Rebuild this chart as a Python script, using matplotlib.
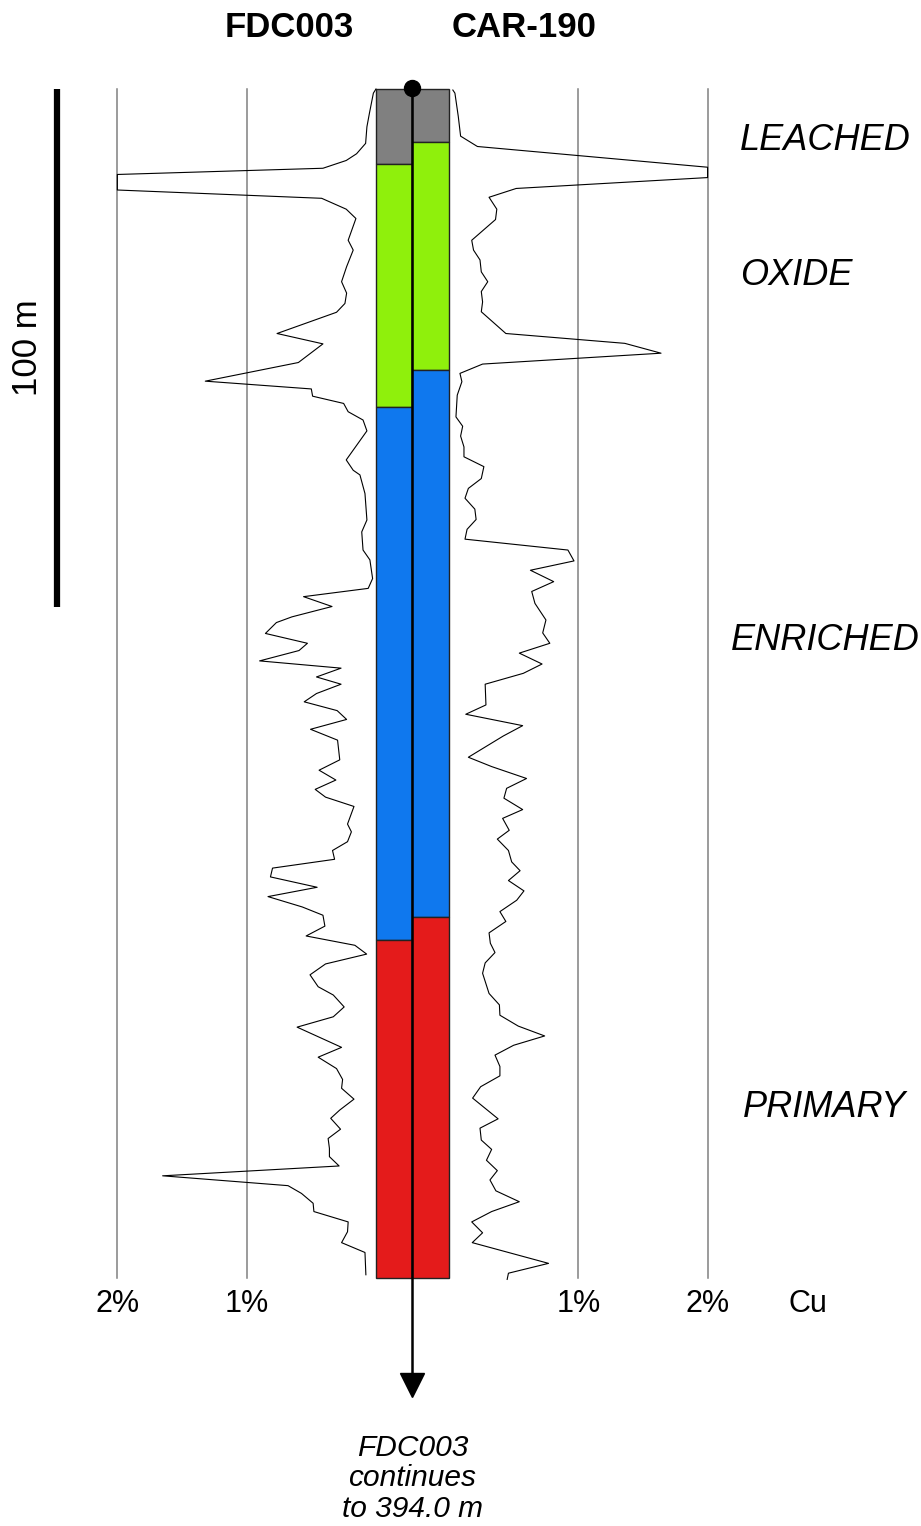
import matplotlib
matplotlib.use("Agg")
import matplotlib.pyplot as plt
import numpy as np

plt.rcParams['font.family'] = ['Liberation Sans', 'DejaVu Sans']

# ---------------- data ----------------
holes = ["FDC003", "CAR-190"]
zones = ["LEACHED", "OXIDE", "ENRICHED", "PRIMARY"]
zone_colors = ["#808080", "#8FF00C", "#0F78EE", "#E41B1B"]

# zone boundaries (depth, m)
fdc_bounds = [0.0, 14.5, 61.4, 164.3, 229.5]
car_bounds = [0.0, 10.3, 54.2, 159.9, 229.5]

# Cu grade profile FDC003 (depth m, Cu %)
fdc_depth = [0.0, 0.8, 4.6, 7.3, 10.5, 12.5, 13.8, 15.3, 16.5, 19.5, 21.1, 23.2, 25.0,
             29.2, 31.1, 34.3, 37.2, 39.4, 41.4, 43.1, 47.2, 49.2, 52.8, 56.4, 57.9,
             59.3, 60.7, 62.3, 63.9, 66.0, 71.6, 73.6, 74.5, 78.1, 83.2, 85.5, 89.0,
             90.9, 94.5, 96.4, 98.0, 99.9, 101.9, 103.0, 105.1, 107.0, 108.4, 110.4,
             111.8, 113.5, 114.9, 116.7, 118.3, 120.0, 121.7, 123.6, 125.7, 129.5,
             131.5, 133.4, 135.2, 136.7, 138.5, 141.9, 143.4, 145.3, 147.0, 148.7,
             150.4, 152.1, 154.1, 155.9, 157.9, 159.5, 161.6, 163.5, 165.3, 167.0,
             168.9, 171.0, 173.3, 174.9, 177.2, 179.1, 181.1, 185.0, 186.9, 189.1,
             191.2, 192.9, 195.0, 197.1, 198.7, 200.8, 202.6, 204.5, 206.1, 207.9,
             209.8, 211.7, 213.2, 215.1, 216.7, 218.7, 220.6, 222.7, 224.6, 228.9]
fdc_cu = [0.00, 0.02, 0.05, 0.07, 0.08, 0.15, 0.23, 0.41, 2.00, 2.00, 0.42, 0.23, 0.155,
          0.215, 0.176, 0.227, 0.266, 0.227, 0.24, 0.305, 0.765, 0.41, 0.60, 1.32, 0.50,
          0.49, 0.25, 0.215, 0.10, 0.07, 0.23, 0.176, 0.124, 0.085, 0.07, 0.11, 0.10,
          0.047, 0.026, 0.06, 0.56, 0.34, 0.65, 0.77, 0.855, 0.53, 0.595, 0.90,
          0.27, 0.46, 0.27, 0.46, 0.555, 0.30, 0.227, 0.506, 0.297, 0.28,
          0.44, 0.31, 0.47, 0.39, 0.17, 0.22, 0.19, 0.22, 0.336, 0.32,
          0.80, 0.816, 0.455, 0.835, 0.57, 0.41, 0.395, 0.54, 0.163, 0.072,
          0.39, 0.51, 0.447, 0.33, 0.246, 0.33, 0.61, 0.266, 0.447, 0.305,
          0.258, 0.266, 0.17, 0.28, 0.35, 0.274, 0.37, 0.36, 0.36, 0.285,
          1.65, 0.68, 0.576, 0.486, 0.48, 0.215, 0.22, 0.266, 0.085, 0.078]

# Cu grade profile CAR-190 (depth m, Cu %)
car_depth = [0.2, 0.8, 5.3, 9.1, 11.1, 15.1, 17.1, 19.2, 20.9, 23.2, 25.2, 29.2, 31.1,
             33.0, 35.3, 37.2, 39.1, 41.1, 43.0, 47.2, 49.1, 51.0, 53.1, 54.9, 56.5,
             59.1, 63.3, 65.1, 67.0, 69.1, 71.0, 72.9, 75.2, 77.1, 79.0, 81.1, 83.1,
             85.0, 86.9, 89.0, 91.1, 92.9, 95.1, 97.0, 99.3, 102.5, 105.0, 107.0,
             108.9, 111.0, 112.8, 114.9, 118.9, 120.7, 122.9, 124.9, 129.0, 130.8,
             133.1, 135.0, 136.9, 139.1, 140.8, 143.1, 144.8, 147.0, 149.2, 150.9,
             152.8, 154.8, 156.6, 158.8, 160.7, 162.9, 164.9, 166.7, 168.7, 170.7,
             174.6, 176.8, 178.8, 180.9, 182.8, 184.6, 186.5, 188.7, 190.5, 192.6,
             194.8, 198.8, 200.6, 202.9, 204.7, 206.8, 208.8, 210.6, 212.7, 214.8,
             216.7, 218.7, 220.8, 222.7, 226.7, 228.6, 229.8]
car_cu = [0.03, 0.046, 0.072, 0.09, 0.22, 2.00, 2.00, 0.52, 0.31, 0.37, 0.36, 0.176, 0.19,
          0.24, 0.25, 0.30, 0.25, 0.26, 0.25, 0.44, 1.36, 1.64, 0.26, 0.085, 0.10,
          0.064, 0.054, 0.106, 0.09, 0.116, 0.116, 0.27, 0.25, 0.15, 0.124, 0.20, 0.21,
          0.14, 0.124, 0.92, 0.967, 0.63, 0.81, 0.64, 0.665, 0.75, 0.725, 0.78,
          0.544, 0.72, 0.575, 0.28, 0.286, 0.13, 0.57, 0.42, 0.15, 0.33,
          0.60, 0.446, 0.425, 0.57, 0.415, 0.466, 0.374, 0.46, 0.485, 0.55,
          0.46, 0.58, 0.524, 0.394, 0.44, 0.31, 0.32, 0.356, 0.28, 0.26,
          0.31, 0.39, 0.394, 0.536, 0.74, 0.50, 0.356, 0.394, 0.394, 0.245,
          0.183, 0.38, 0.24, 0.25, 0.33, 0.29, 0.374, 0.317, 0.363, 0.544,
          0.33, 0.176, 0.26, 0.18, 0.77, 0.46, 0.45]

grid_values = [1, 2]
tick_labels = ["1%", "2%"]
scale_bar_m = 100
fdc_total_depth = 394.0

# ---------------- layout ----------------
G = 0.2823          # half width of the combined log (in Cu % units)
W, H, DPI = 921, 1526, 100
fig = plt.figure(figsize=(W / DPI, H / DPI), dpi=DPI)
ax = fig.add_axes([0, 0, 1, 1])
ax.set_xlim(-3.190, 3.933)
ax.set_ylim(277.4, -17.18)
ax.axis("off")

bottom = fdc_bounds[-1]

# grid lines
for g in grid_values:
    for s in (-1, 1):
        ax.plot([s * (G + g)] * 2, [0, bottom], color="#808080", lw=1.1, zorder=1)

# zone columns
for bounds, x0 in ((fdc_bounds, -G), (car_bounds, 0.0)):
    for i in range(len(zones)):
        ax.add_patch(plt.Rectangle((x0, bounds[i]), G, bounds[i + 1] - bounds[i],
                                   facecolor=zone_colors[i], edgecolor="#222222",
                                   lw=1.0, zorder=2))

# Cu profiles
ax.plot(-G - np.array(fdc_cu), fdc_depth, color="black", lw=0.8, zorder=3)
ax.plot(G + np.array(car_cu), car_depth, color="black", lw=0.8, zorder=3)

# drill hole trace
ax.plot([0, 0], [-0.2, 249.0], color="black", lw=1.8, zorder=4)
ax.plot([0], [-0.2], marker="o", markersize=11.5, color="black", zorder=5)
ax.plot([0], [250.2], marker="v", markersize=17, color="black", zorder=5)

# scale bar
ax.plot([-2.75, -2.75], [0, scale_bar_m], color="black", lw=4.5, solid_capstyle="butt")
ax.text(-2.975, scale_bar_m / 2, f"{scale_bar_m} m", rotation=90, ha="center", va="center",
        fontsize=25)

# titles
ax.text(-0.95, -11.9, holes[0], ha="center", va="center", fontsize=25, fontweight="bold")
ax.text(0.86, -11.9, holes[1], ha="center", va="center", fontsize=25, fontweight="bold")

# tick labels
for g, lab in zip(grid_values, tick_labels):
    ax.text(-(G + g), 234.6, lab, ha="center", va="center", fontsize=22)
    ax.text(G + g, 234.6, lab, ha="center", va="center", fontsize=22)
ax.text(3.06, 234.6, "Cu", ha="center", va="center", fontsize=22)

# zone labels
zone_label_pos = [(3.19, 9.9), (2.97, 36.0), (3.19, 106.4), (3.19, 196.6)]
for z, (x, y) in zip(zones, zone_label_pos):
    ax.text(x, y, z, ha="center", va="center", fontsize=26, style="italic")

# continuation note
ax.text(0, 268.2, f"{holes[0]}\ncontinues\nto {fdc_total_depth:.1f} m", ha="center",
        va="center", fontsize=21.5, style="italic", linespacing=1.1)

fig.savefig("out.png", dpi=DPI)
